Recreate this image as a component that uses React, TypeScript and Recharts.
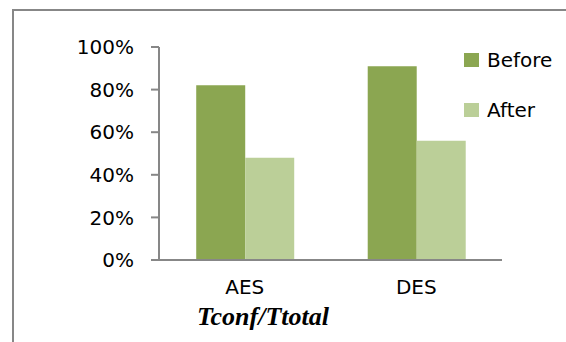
import { BarChart, Bar, XAxis, YAxis } from 'recharts';

const categories = ['AES', 'DES'];
const beforeValues = [82, 91];
const afterValues = [48, 56];
const yTicks = [0, 20, 40, 60, 80, 100];

const colors = {
  before: '#8ba651',
  after: '#bbcf98',
  axis: '#878787',
  text: '#000000',
};

const series = [
  { key: 'Before', color: colors.before },
  { key: 'After', color: colors.after },
];

const data = categories.map((name, i) => ({
  name,
  Before: beforeValues[i],
  After: afterValues[i],
}));

const font = '"DejaVu Sans", sans-serif';

function ChartLegend() {
  return (
    <div style={{ position: 'absolute', left: 464, top: 47.5, display: 'flex', flexDirection: 'column', gap: 26 }}>
      {series.map((s) => (
        <div key={s.key} style={{ display: 'flex', alignItems: 'center', height: 24 }}>
          <span style={{ width: 15, height: 14, background: s.color, marginRight: 8 }} />
          <span style={{ fontFamily: font, fontSize: 20, lineHeight: '24px', color: colors.text }}>
            {s.key}
          </span>
        </div>
      ))}
    </div>
  );
}

export default function App() {
  return (
    <div style={{ position: 'absolute', left: 0, top: 0, width: 566, height: 342, overflow: 'hidden', background: '#fff' }}>
      <div
        style={{
          position: 'absolute',
          left: 12,
          top: 9,
          width: 620,
          height: 400,
          border: `2px solid ${colors.axis}`,
        }}
      />
      <div style={{ position: 'absolute', left: 0, top: 0 }}>
        <BarChart
          width={566}
          height={342}
          data={data}
          margin={{ top: 47, right: 64, bottom: 40, left: 0 }}
          barGap={0}
          barCategoryGap="21.7%"
        >
          <XAxis
            dataKey="name"
            tickLine={false}
            tickSize={0}
            tickMargin={20}
            height={42}
            stroke={colors.axis}
            strokeWidth={2}
            tick={{ fill: colors.text, fontSize: 20, fontFamily: font }}
          />
          <YAxis
            domain={[0, 100]}
            ticks={yTicks}
            interval={0}
            width={159}
            tickSize={8}
            tickMargin={17}
            tickFormatter={(v: number) => `${v}%`}
            stroke={colors.axis}
            strokeWidth={2}
            tick={{ fill: colors.text, fontSize: 20, fontFamily: font }}
          />
          {series.map((s) => (
            <Bar key={s.key} dataKey={s.key} fill={s.color} isAnimationActive={false} />
          ))}
        </BarChart>
      </div>
      <ChartLegend />
      <div
        style={{
          position: 'absolute',
          left: 197,
          top: 304,
          fontFamily: '"Liberation Serif", "Times New Roman", serif',
          fontWeight: 'bold',
          fontStyle: 'italic',
          fontSize: 26,
          lineHeight: '26px',
          color: colors.text,
        }}
      >
        Tconf/Ttotal
      </div>
    </div>
  );
}
